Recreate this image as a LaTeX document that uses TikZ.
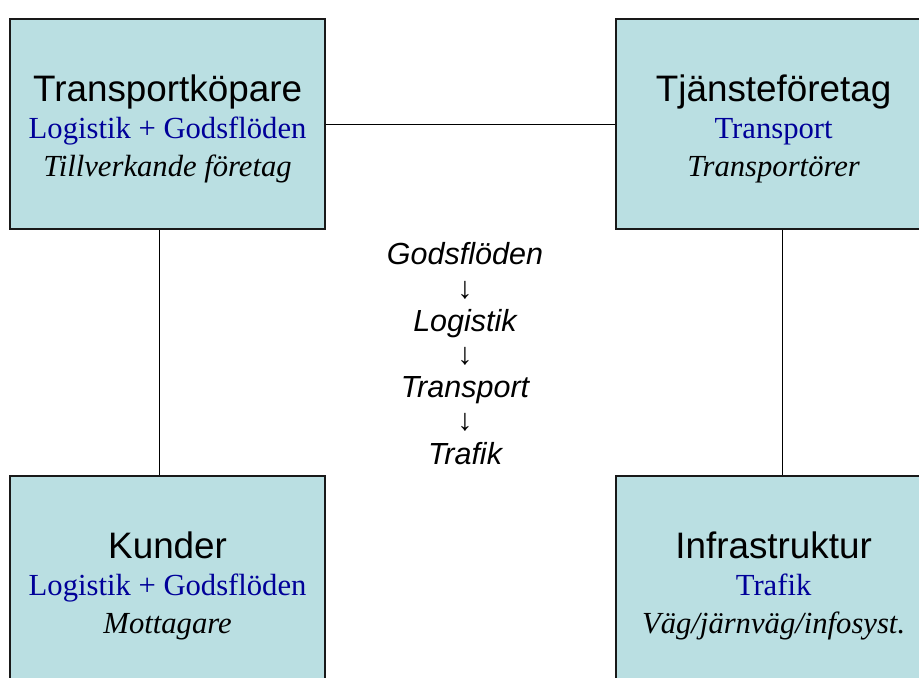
\documentclass[tikz,border=0pt]{standalone}
\usepackage{fontspec}
\setmainfont{Liberation Serif}
\setsansfont{Liberation Sans}
\usetikzlibrary{positioning}
\definecolor{firmfill}{RGB}{186,223,226}
\definecolor{roleblue}{RGB}{0,0,153}
\newcommand{\firmname}[1]{{\sffamily\fontsize{26.2}{26.6}\selectfont\rule{0pt}{25.6pt}#1}}
\newcommand{\firmrole}[1]{{\color{roleblue}#1}}
\newcommand{\firmwho}[1]{{\itshape #1}}

\begin{document}
\begin{tikzpicture}[
	firm/.style={draw=black!90, line width=1pt, fill=firmfill, minimum width=7.875cm, minimum height=5.25cm, align=center, font=\fontsize{21.8}{26.6}\selectfont},
	link/.style={draw=black, line width=0.7pt},
	chain/.style={align=center, font=\sffamily\itshape\fontsize{21.7}{23.6}\selectfont}]
\useasboundingbox (0,0) rectangle (22.975,-16.95);
\clip (0,0) rectangle (22.975,-16.95);
\node[firm] (kopare) at (4.19,-3.1) {\firmname{Transportköpare}\\ \firmrole{Logistik + Godsflöden}\\ \firmwho{Tillverkande företag}};
\node[firm, right=7.24cm of kopare] (tjanst) {\firmname{Tjänsteföretag}\\ \firmrole{Transport}\\ \firmwho{Transportörer}};
\node[firm, below=6.14cm of kopare] (kunder) {\firmname{Kunder}\\ \firmrole{Logistik + Godsflöden}\\ \firmwho{Mottagare}};
\node[firm, below=6.14cm of tjanst] (infra) {\firmname{Infrastruktur}\\ \firmrole{Trafik}\\ \firmwho{Väg/järnväg/infosyst.}};
\node[chain] (flow) at (11.625,-8.84) {Godsflöden\\ {\upshape ↓}\\ Logistik\\ {\upshape ↓}\\ Transport\\ {\upshape ↓}\\ Trafik};
\draw[link] (kopare) -- (tjanst);
\draw[link] ([xshift=-0.21cm]kopare.south) -- ([xshift=-0.21cm]kunder.north);
\draw[link] ([xshift=0.22cm]tjanst.south) -- ([xshift=0.22cm]infra.north);
\end{tikzpicture}
\end{document}
